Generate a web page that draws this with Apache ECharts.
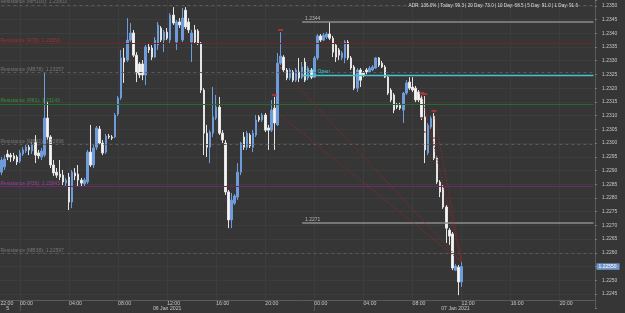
<!DOCTYPE html>
<html>
<head>
<meta charset="utf-8">
<script src="https://cdn.jsdelivr.net/npm/echarts@6/dist/echarts.min.js"></script>
<style>
  html, body { margin: 0; padding: 0; background: #363636; }
  #chart { width: 625px; height: 313px; }
</style>
</head>
<body>
<div id="chart"></div>
<script>
// 15-minute bars, 22:00 5 Jan 2021 onwards
const startDay = 5;
const startMinutes = 22 * 60;
const barMinutes = 15;
const slotCount = 196; // category slots across the plot, empty ones on the right
const leadSlots = 2;   // slots before the first drawn bar

const opens = [
  1.22894, 1.22913, 1.22960, 1.22956, 1.22953, 1.22949, 1.22934, 1.22960, 1.22971, 1.22985,
  1.22971, 1.23004, 1.22964, 1.22949, 1.22956, 1.23091, 1.23022, 1.22920, 1.22894, 1.22887,
  1.22883, 1.22854, 1.22876, 1.22785, 1.22891, 1.22887, 1.22865, 1.22851, 1.22858, 1.22967,
  1.22920, 1.22985, 1.23051, 1.23000, 1.22967, 1.23025, 1.23022, 1.23022, 1.23106, 1.23164,
  1.23310, 1.23302, 1.23375, 1.23401, 1.23320, 1.23288, 1.23288, 1.23248, 1.23350, 1.23346,
  1.23313, 1.23357, 1.23419, 1.23375, 1.23404, 1.23375, 1.23466, 1.23368, 1.23441, 1.23375,
  1.23484, 1.23441, 1.23368, 1.23412, 1.23408, 1.23364, 1.23193, 1.23036, 1.22985, 1.23036,
  1.23091, 1.23131, 1.23036, 1.23000, 1.22822, 1.22720, 1.22781, 1.22803, 1.22894, 1.23022,
  1.22985, 1.23029, 1.22985, 1.23029, 1.23095, 1.23084, 1.23102, 1.23055, 1.23047, 1.23127,
  1.23066, 1.23291, 1.23313, 1.23266, 1.23237, 1.23259, 1.23229, 1.23259, 1.23240, 1.23295,
  1.23237, 1.23266, 1.23240, 1.23310, 1.23390, 1.23375, 1.23386, 1.23397, 1.23382, 1.23357,
  1.23339, 1.23310, 1.23310, 1.23368, 1.23310, 1.23277, 1.23200, 1.23266, 1.23255, 1.23266,
  1.23259, 1.23266, 1.23273, 1.23310, 1.23291, 1.23277, 1.23240, 1.23193, 1.23175, 1.23138,
  1.23138, 1.23120, 1.23182, 1.23222, 1.23204, 1.23200, 1.23186, 1.23164, 1.23095, 1.22964,
  1.23058, 1.23098, 1.22945, 1.22858, 1.22836, 1.22767, 1.22683, 1.22669, 1.22537, 1.22548,
  1.22494
];
const closes = [
  1.22938, 1.22942, 1.22949, 1.22949, 1.22942, 1.22931, 1.22964, 1.22975, 1.22985, 1.22975,
  1.22993, 1.22956, 1.22953, 1.22971, 1.23091, 1.23022, 1.22920, 1.22891, 1.22883, 1.22876,
  1.22858, 1.22865, 1.22785, 1.22894, 1.22880, 1.22865, 1.22854, 1.22865, 1.22967, 1.22920,
  1.22982, 1.23055, 1.23000, 1.22964, 1.23025, 1.23022, 1.23018, 1.23102, 1.23164, 1.23310,
  1.23295, 1.23375, 1.23401, 1.23320, 1.23255, 1.23248, 1.23248, 1.23350, 1.23339, 1.23313,
  1.23375, 1.23430, 1.23375, 1.23404, 1.23382, 1.23466, 1.23437, 1.23441, 1.23430, 1.23455,
  1.23423, 1.23412, 1.23401, 1.23368, 1.23364, 1.23193, 1.23036, 1.22985, 1.23040, 1.23095,
  1.23131, 1.23036, 1.23011, 1.22822, 1.22720, 1.22792, 1.22807, 1.22894, 1.23000, 1.22985,
  1.23036, 1.22989, 1.23036, 1.23084, 1.23084, 1.23102, 1.23047, 1.23047, 1.23120, 1.23073,
  1.23291, 1.23317, 1.23266, 1.23237, 1.23266, 1.23229, 1.23266, 1.23237, 1.23277, 1.23229,
  1.23273, 1.23240, 1.23310, 1.23390, 1.23375, 1.23393, 1.23397, 1.23382, 1.23331, 1.23313,
  1.23320, 1.23328, 1.23368, 1.23310, 1.23273, 1.23200, 1.23266, 1.23229, 1.23248, 1.23259,
  1.23273, 1.23277, 1.23310, 1.23284, 1.23277, 1.23240, 1.23182, 1.23157, 1.23120, 1.23131,
  1.23127, 1.23182, 1.23219, 1.23200, 1.23193, 1.23157, 1.23157, 1.23095, 1.22975, 1.23066,
  1.23091, 1.22945, 1.22858, 1.22822, 1.22767, 1.22690, 1.22661, 1.22545, 1.22552, 1.22494,
  1.22550
];
const lows = [
  1.22883, 1.22902, 1.22938, 1.22931, 1.22934, 1.22920, 1.22927, 1.22953, 1.22964, 1.22956,
  1.22960, 1.22927, 1.22942, 1.22938, 1.22949, 1.23011, 1.22909, 1.22880, 1.22873, 1.22865,
  1.22847, 1.22843, 1.22756, 1.22763, 1.22865, 1.22840, 1.22843, 1.22840, 1.22851, 1.22913,
  1.22909, 1.22975, 1.22993, 1.22956, 1.22960, 1.23015, 1.23011, 1.23018, 1.23098, 1.23157,
  1.23219, 1.23295, 1.23368, 1.23313, 1.23222, 1.23237, 1.23229, 1.23211, 1.23328, 1.23302,
  1.23310, 1.23339, 1.23368, 1.23331, 1.23375, 1.23364, 1.23430, 1.23339, 1.23419, 1.23368,
  1.23415, 1.23401, 1.23295, 1.23361, 1.23357, 1.23182, 1.22956, 1.22949, 1.22927, 1.23022,
  1.23084, 1.23029, 1.23000, 1.22811, 1.22690, 1.22690, 1.22774, 1.22792, 1.22883, 1.22975,
  1.22975, 1.22982, 1.22967, 1.23022, 1.23077, 1.23077, 1.23040, 1.22975, 1.23040, 1.22975,
  1.23062, 1.23284, 1.23259, 1.23229, 1.23229, 1.23222, 1.23222, 1.23222, 1.23233, 1.23222,
  1.23229, 1.23233, 1.23237, 1.23302, 1.23368, 1.23371, 1.23379, 1.23375, 1.23313, 1.23295,
  1.23302, 1.23302, 1.23291, 1.23302, 1.23266, 1.23193, 1.23186, 1.23204, 1.23240, 1.23251,
  1.23255, 1.23262, 1.23270, 1.23277, 1.23273, 1.23237, 1.23175, 1.23149, 1.23109, 1.23124,
  1.23120, 1.23073, 1.23175, 1.23193, 1.23186, 1.23149, 1.23149, 1.23084, 1.22927, 1.22956,
  1.23051, 1.22938, 1.22851, 1.22803, 1.22760, 1.22636, 1.22629, 1.22537, 1.22534, 1.22446,
  1.22476
];
const highs = [
  1.22949, 1.22956, 1.22975, 1.22964, 1.22964, 1.22956, 1.22975, 1.22985, 1.22993, 1.22993,
  1.23004, 1.23029, 1.22975, 1.22982, 1.23259, 1.23149, 1.23029, 1.22938, 1.22909, 1.22938,
  1.22902, 1.22873, 1.22891, 1.22902, 1.22909, 1.22920, 1.22873, 1.22873, 1.22975, 1.23066,
  1.22993, 1.23062, 1.23062, 1.23011, 1.23033, 1.23033, 1.23029, 1.23109, 1.23171, 1.23339,
  1.23346, 1.23455, 1.23437, 1.23412, 1.23331, 1.23295, 1.23302, 1.23357, 1.23361, 1.23357,
  1.23386, 1.23441, 1.23426, 1.23412, 1.23419, 1.23473, 1.23495, 1.23448, 1.23455, 1.23492,
  1.23495, 1.23455, 1.23412, 1.23430, 1.23415, 1.23368, 1.23200, 1.23066, 1.23047, 1.23204,
  1.23175, 1.23168, 1.23047, 1.23011, 1.22829, 1.22818, 1.22814, 1.22927, 1.23004, 1.23040,
  1.23044, 1.23036, 1.23047, 1.23102, 1.23102, 1.23109, 1.23109, 1.23066, 1.23157, 1.23168,
  1.23328, 1.23404, 1.23320, 1.23273, 1.23273, 1.23266, 1.23273, 1.23310, 1.23295, 1.23310,
  1.23280, 1.23273, 1.23317, 1.23397, 1.23397, 1.23401, 1.23404, 1.23441, 1.23390, 1.23364,
  1.23346, 1.23335, 1.23375, 1.23375, 1.23317, 1.23284, 1.23273, 1.23273, 1.23262, 1.23273,
  1.23280, 1.23284, 1.23313, 1.23313, 1.23299, 1.23284, 1.23248, 1.23200, 1.23182, 1.23146,
  1.23146, 1.23186, 1.23229, 1.23240, 1.23240, 1.23208, 1.23193, 1.23175, 1.23171, 1.23073,
  1.23098, 1.23109, 1.22953, 1.22865, 1.22847, 1.22774, 1.22690, 1.22676, 1.22559, 1.22556,
  1.22567
];

// pivot / support-resistance levels
const levelNames = [
  'Resistance (MH100): 1.23503', 'Resistance (R78): 1.23363', 'Resistance (MB78): 1.23257',
  'Resistance (R61): 1.23143', 'Resistance (MB61): 1.22996', 'Resistance (R38): 1.22843',
  'Resistance (MB38): 1.22597'
];
const levelValues = [1.23503, 1.23363, 1.23257, 1.23143, 1.22996, 1.22843, 1.22597];

const dailyOpen = 1.23247;
const dayHigh = 1.2344;
const dayLow = 1.2271;
const segmentStartBar = 98;

// trend lines: [startBar, startPrice, endBar, endPrice]
const trendLines = [
  [96, 1.23214, 150, 1.22567],
  [91, 1.23100, 150, 1.22567],
  [137, 1.23175, 150, 1.22567],
  [141, 1.23113, 150, 1.22567]
];

const markerBars = [89, 91, 137, 138, 141];
const markerPrices = [1.23175, 1.23412, 1.23182, 1.23178, 1.23117];
const dotBars = [91, 137, 138, 141];
const dotPrices = [1.23273, 1.23091, 1.23040, 1.23018];

const dateLabels = {
  '2021-01-05 23:00': '5',
  '2021-01-06 12:00': '06 Jan 2021',
  '2021-01-07 11:30': '07 Jan 2021'
};

const adrText = 'ADR: 136.0% | Today: 99.3 | 20 Day: 73.0 | 10 Day: 68.5 | 5 Day: 91.0 | 1 Day: 91.6';

// ---------------------------------------------------------------

const times = [];
for (let k = 0; k < slotCount; k++) {
  const t = startMinutes + k * barMinutes;
  const day = startDay + Math.floor(t / 1440);
  const hh = Math.floor((t % 1440) / 60);
  const mm = t % 60;
  times.push('2021-01-0' + day + ' ' + String(hh).padStart(2, '0') + ':' + String(mm).padStart(2, '0'));
}

const candles = times.map((t, k) => {
  const i = k - leadSlots;
  return i >= 0 && i < opens.length ? [opens[i], closes[i], lows[i], highs[i]] : '-';
});

const showTime = (idx) => {
  const hhmm = times[idx].slice(11);
  return idx === 0 || (hhmm.endsWith(':00') && parseInt(hhmm, 10) % 4 === 0);
};

const font = 'Liberation Sans, Arial, sans-serif';
const axisY = -7.76; // pulls the time axis up to the bottom of the visible plot
const lastSlot = slotCount - 1;

const levelStyles = [
  { line: '#5a5a5a', text: '#767676', type: [3, 3] },
  { line: '#6c2828', text: '#963636', type: 'solid' },
  { line: '#5a5a5a', text: '#767676', type: [3, 3] },
  { line: '#286a2a', text: '#389238', type: 'solid' },
  { line: '#5a5a5a', text: '#767676', type: [3, 3] },
  { line: '#6c2a6c', text: '#9a3e9a', type: 'solid' },
  { line: '#5a5a5a', text: '#767676', type: [3, 3] }
];

// full-width level lines, drawn from the first slot to the last one
const markData = levelValues.map((v, k) => [
  {
    coord: [0, v],
    lineStyle: { color: levelStyles[k].line, type: levelStyles[k].type, width: 1 },
    label: {
      show: true, position: 'insideStartTop', distance: [5, 0.5], formatter: levelNames[k],
      color: levelStyles[k].text, fontSize: 5, fontFamily: font
    }
  },
  { coord: [lastSlot, v] }
]);

const segLine = (value, color, width, text, textColor) => [
  {
    coord: [segmentStartBar + leadSlots, value],
    lineStyle: { color: color, width: width, type: 'solid' },
    label: {
      show: true, position: 'insideStartTop', distance: [3, 1], formatter: text,
      color: textColor, fontSize: 5, fontFamily: font
    }
  },
  { coord: [lastSlot, value] }
];
markData.push(segLine(dayHigh, '#8c8c8c', 1.5, dayHigh.toFixed(4), '#b4b4b4'));
markData.push(segLine(dayLow, '#8c8c8c', 1.5, dayLow.toFixed(4), '#b4b4b4'));
markData.push(segLine(dailyOpen, '#3fc4cf', 1.3, 'Daily Open', '#45d2de'));

trendLines.forEach((t) => {
  markData.push([
    { coord: [t[0] + leadSlots, t[1]], lineStyle: { color: '#9a2626', width: 0.9, type: [1.5, 1.5] } },
    { coord: [t[2] + leadSlots, t[3]] }
  ]);
});

// last price tag on the price scale
const lastClose = closes[closes.length - 1];
markData.push([
  {
    coord: [lastSlot - 1, lastClose],
    lineStyle: { color: 'rgba(0,0,0,0)', width: 1 },
    label: {
      show: true, position: 'end', distance: 3, formatter: lastClose.toFixed(5),
      backgroundColor: '#7094cc', color: '#ffffff', fontSize: 5, fontFamily: font,
      padding: [1, 3, 0.5, 2]
    }
  },
  { coord: [lastSlot, lastClose] }
]);

const chart = echarts.init(document.getElementById('chart'));
chart.setOption({
  backgroundColor: '#363636',
  animation: false,
  title: {
    text: adrText,
    right: 47,
    top: 3,
    padding: 0,
    textStyle: { color: '#dedede', fontSize: 4.6, fontWeight: 'normal', fontFamily: font }
  },
  grid: {
    left: -6.13,
    right: 30,
    top: 0,
    bottom: 5.24,
    containLabel: false,
    outerBoundsMode: 'none'
  },
  xAxis: [
    {
      type: 'category',
      data: times,
      boundaryGap: true,
      position: 'bottom',
      offset: axisY,
      axisLine: { lineStyle: { color: '#5a5a5a' } },
      axisTick: {
        show: true,
        alignWithLabel: true,
        length: 11,
        interval: (idx) => times[idx].endsWith('00:00'),
        lineStyle: { color: '#555555' }
      },
      axisLabel: {
        interval: showTime,
        align: 'left',
        margin: 1,
        color: '#c6c6c6',
        fontSize: 5.2,
        fontFamily: font,
        formatter: (value, idx) => (idx === 0 ? '{first|' + value.slice(11) + '}' : value.slice(11)),
        rich: {
          first: { padding: [0, 0, 0, 5], color: '#c6c6c6', fontSize: 5.2, fontFamily: font }
        }
      },
      splitLine: {
        show: true,
        alignWithLabel: true,
        interval: (idx) => idx > 0 && showTime(idx),
        lineStyle: { color: '#3d3d3d', width: 1 }
      }
    },
    {
      type: 'category',
      data: times,
      boundaryGap: true,
      position: 'bottom',
      offset: axisY,
      axisLine: { show: false },
      axisTick: { show: false },
      splitLine: { show: false },
      axisLabel: {
        interval: (idx) => dateLabels[times[idx]] !== undefined,
        formatter: (value) => dateLabels[value] || '',
        align: 'center',
        margin: 6,
        color: '#c6c6c6',
        fontSize: 5.2,
        fontFamily: font
      }
    }
  ],
  yAxis: {
    type: 'value',
    position: 'right',
    min: 1.2240,
    max: 1.23521,
    interval: 0.0005,
    axisLine: { show: true, lineStyle: { color: '#5a5a5a' } },
    axisTick: { show: true, length: 2, lineStyle: { color: '#777777' } },
    axisLabel: {
      margin: 7,
      color: '#c6c6c6',
      fontSize: 5,
      fontFamily: font,
      formatter: (v) => (v < 1.22425 || v > 1.2351 ? '' : v.toFixed(4))
    },
    splitLine: {
      show: true,
      showMinLine: false,
      showMaxLine: false,
      lineStyle: { color: '#3d3d3d', width: 1 }
    }
  },
  series: [
    {
      type: 'candlestick',
      xAxisIndex: 0,
      data: candles,
      barWidth: 2,
      itemStyle: {
        color: '#6e9bd9',
        borderColor: '#6e9bd9',
        color0: '#f6f6f6',
        borderColor0: '#e4e4e4',
        borderWidth: 1
      },
      markLine: {
        silent: true,
        symbol: ['none', 'none'],
        animation: false,
        label: { show: false },
        data: markData
      }
    },
    {
      type: 'scatter',
      xAxisIndex: 0,
      symbol: 'rect',
      symbolSize: [5, 1.5],
      itemStyle: { color: '#e23a3a' },
      data: markerBars.map((b, k) => [b + leadSlots, markerPrices[k]])
    },
    {
      type: 'scatter',
      xAxisIndex: 0,
      symbol: 'circle',
      symbolSize: 2,
      itemStyle: { color: '#d83030' },
      data: dotBars.map((b, k) => [b + leadSlots, dotPrices[k]])
    }
  ]
});
</script>
</body>
</html>
